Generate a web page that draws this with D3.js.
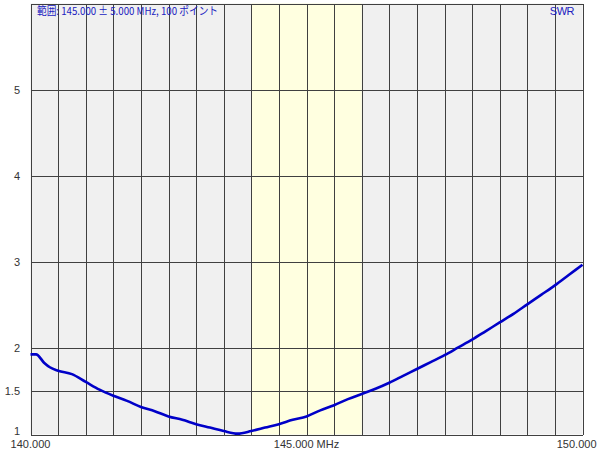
<!DOCTYPE html>
<html><head><meta charset="utf-8">
<script src="https://cdn.jsdelivr.net/npm/d3@7"></script>
<style>body{margin:0;background:#fff;}svg{display:block;}</style>
</head><body>
<svg id="chart" width="600" height="450"></svg>
<script>
const freqStart = 140.0, freqEnd = 150.0;
const freqs = [140.00,140.10,140.25,140.35,140.50,140.75,141.00,141.25,141.50,141.75,142.00,142.25,142.50,142.75,143.00,143.25,143.50,143.75,144.00,144.25,144.50,144.75,145.00,145.25,145.50,145.75,146.00,146.25,146.50,146.75,147.00,147.25,147.50,147.75,148.00,148.25,148.50,148.75,149.00,149.25,149.50,149.75,150.00];
const swr = [1.93,1.93,1.83,1.78,1.74,1.70,1.61,1.52,1.45,1.39,1.32,1.27,1.21,1.17,1.12,1.08,1.04,1.01,1.04,1.08,1.12,1.17,1.21,1.28,1.34,1.41,1.47,1.53,1.60,1.68,1.76,1.84,1.92,2.01,2.10,2.20,2.30,2.40,2.51,2.62,2.73,2.85,2.97];
const yTicks = [1,1.5,2,3,4,5];
const yTickLabels = ["1","1.5","2","3","4","5"];
const xGrid = d3.range(0,21).map(i => 140 + i*0.5);
const bandRange = [144.0, 146.0];
const xLabels = [{v:140, t:"140.000", a:"middle"},{v:145, t:"145.000 MHz", a:"middle"},{v:150, t:"150.000", a:"end"}];
const titleText = "範囲: 145.000 ± 5.000 MHz, 100 ポイント";
const seriesName = "SWR";

const svg = d3.select("#chart");
const x = d3.scaleLinear().domain([freqStart, freqEnd]).range([30.5, 582.5]);
const y = d3.scaleLinear().domain([1, 6]).range([434.5, 3.5]);

svg.append("rect").attr("x", x(freqStart)).attr("y", y(6)).attr("width", x(freqEnd)-x(freqStart)).attr("height", y(1)-y(6)).attr("fill", "#f0f0f0");
svg.append("rect").attr("x", x(bandRange[0])).attr("y", y(6)).attr("width", x(bandRange[1])-x(bandRange[0])).attr("height", y(1)-y(6)).attr("fill", "#ffffe0");

const grid = svg.append("g").attr("stroke", "#404040").attr("stroke-width", 1).attr("shape-rendering","crispEdges");
grid.selectAll("line.v").data(xGrid).join("line").attr("class","v")
  .attr("x1", d => Math.round(x(d))+0.5).attr("x2", d => Math.round(x(d))+0.5)
  .attr("y1", y(6)).attr("y2", y(1));
grid.selectAll("line.h").data(yTicks.concat([6])).join("line").attr("class","h")
  .attr("x1", x(freqStart)).attr("x2", x(freqEnd))
  .attr("y1", d => Math.round(y(d))+0.5).attr("y2", d => Math.round(y(d))+0.5);

svg.append("g").selectAll("text").data(yTicks).join("text")
  .attr("x", 20).attr("y", d => d === 1 ? y(d) : y(d)+4).attr("text-anchor","end")
  .attr("font-family","Arial, 'Liberation Sans', sans-serif").attr("font-size", 11).attr("fill","#333")
  .text((d,i) => yTickLabels[i]);

svg.append("g").selectAll("text").data(xLabels).join("text")
  .attr("x", d => d.a==="end" ? x(d.v)+14 : x(d.v)).attr("y", 448).attr("text-anchor", d => d.a)
  .attr("font-family","Arial, 'Liberation Sans', sans-serif").attr("font-size", 11).attr("fill","#333")
  .text(d => d.t);

const pts = freqs.map((f,i) => [f, swr[i]]);
svg.append("path").datum(pts)
  .attr("d", d3.line().x(d => x(d[0])).y(d => y(d[1])).curve(d3.curveMonotoneX))
  .attr("fill","none").attr("stroke","#0000c8").attr("stroke-width", 2.6).attr("stroke-linejoin","round");

svg.append("text").attr("x", 37).attr("y", 15)
  .attr("font-family","'Noto Sans CJK JP', sans-serif").attr("font-size", 11).attr("fill","#2020c0")
  .attr("textLength", 181).attr("lengthAdjust","spacingAndGlyphs")
  .text(titleText);
svg.append("text").attr("x", 574).attr("y", 15).attr("text-anchor","end")
  .attr("font-family","Arial, 'Liberation Sans', sans-serif").attr("font-size", 11).attr("fill","#2020c0")
  .attr("letter-spacing", -0.5)
  .text(seriesName);
</script>
</body></html>
